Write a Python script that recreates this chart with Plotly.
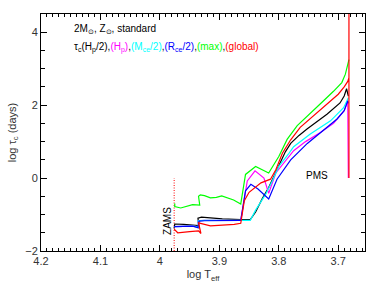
import plotly.graph_objects as go

# ---- data (log Teff, log tau_c) ----
black_x = [3.976, 3.975, 3.960, 3.945, 3.936, 3.934, 3.936, 3.930, 3.915, 3.895, 3.864, 3.848, 3.839, 3.828, 3.817, 3.803, 3.789, 3.780, 3.766, 3.752, 3.735, 3.719, 3.697, 3.690, 3.686, 3.683]
black_y = [-1.38, -1.26, -1.27, -1.28, -1.30, -1.38, -1.10, -1.07, -1.10, -1.12, -1.14, -1.14, -0.93, -0.57, -0.26, 0.23, 0.72, 0.95, 1.17, 1.35, 1.55, 1.75, 2.06, 2.25, 2.45, 2.25]

magenta_x = [3.976, 3.960, 3.945, 3.935, 3.936, 3.925, 3.900, 3.864, 3.853, 3.840, 3.825, 3.817, 3.805, 3.790, 3.775, 3.755, 3.730, 3.708, 3.690, 3.684, 3.683]
magenta_y = [-1.33, -1.32, -1.32, -1.34, -1.17, -1.16, -1.16, -1.16, -0.08, 0.20, 0.00, -0.42, 0.14, 0.45, 0.75, 1.00, 1.25, 1.50, 1.85, 2.10, 0.00]

cyan_x = [3.976, 3.960, 3.945, 3.935, 3.936, 3.925, 3.900, 3.864, 3.848, 3.839, 3.822, 3.811, 3.800, 3.783, 3.775, 3.747, 3.713, 3.691, 3.685, 3.683]
cyan_y = [-1.33, -1.32, -1.32, -1.34, -1.17, -1.16, -1.16, -1.16, -1.16, -0.88, -0.44, -0.08, 0.32, 0.68, 0.86, 1.21, 1.57, 1.93, 2.15, 2.20]

blue_x = [3.976, 3.960, 3.945, 3.936, 3.934, 3.925, 3.900, 3.864, 3.856, 3.847, 3.835, 3.817, 3.803, 3.780, 3.752, 3.725, 3.702, 3.690, 3.684, 3.683]
blue_y = [-1.33, -1.33, -1.32, -1.36, -1.18, -1.17, -1.17, -1.16, -0.35, -0.17, -0.30, -0.57, -0.03, 0.50, 0.95, 1.30, 1.62, 1.85, 2.12, 2.05]

green_x = [3.975, 3.975, 3.965, 3.945, 3.933, 3.935, 3.932, 3.925, 3.915, 3.905, 3.896, 3.885, 3.876, 3.864, 3.856, 3.839, 3.817, 3.800, 3.786, 3.769, 3.752, 3.730, 3.708, 3.694, 3.688, 3.684, 3.682]
green_y = [-0.70, -0.78, -0.82, -0.73, -0.74, -0.50, -0.46, -0.48, -0.54, -0.53, -0.49, -0.55, -0.60, -0.71, 0.10, 0.32, 0.14, 0.59, 1.06, 1.44, 1.71, 2.04, 2.38, 2.62, 2.85, 3.15, 3.25]

red_x = [3.976, 3.970, 3.950, 3.935, 3.931, 3.935, 3.915, 3.890, 3.875, 3.864, 3.858, 3.850, 3.830, 3.814, 3.805, 3.794, 3.780, 3.764, 3.736, 3.713, 3.700, 3.690, 3.684, 3.682, 3.682, 3.682]
red_y = [-1.40, -1.50, -1.47, -1.45, -1.52, -1.23, -1.31, -1.29, -1.27, -1.24, -0.62, -0.39, -0.13, -0.03, 0.23, 0.68, 1.05, 1.39, 1.80, 2.11, 2.30, 2.50, 2.65, 2.75, 5.00, 0.00]

zams_x = [3.976, 3.976]
zams_y = [-2.0, 0.0]

x_ticks = [4.2, 4.1, 4.0, 3.9, 3.8, 3.7]
x_ticklabels = ["4.2", "4.1", "4", "3.9", "3.8", "3.7"]
y_ticks = [-2, 0, 2, 4]

series = [
    (black_x, black_y, "#000000"),
    (magenta_x, magenta_y, "#FF00FF"),
    (cyan_x, cyan_y, "#00FFFF"),
    (blue_x, blue_y, "#0000FF"),
    (green_x, green_y, "#00FF00"),
    (red_x, red_y, "#FF0000"),
]

fig = go.Figure()
fig.add_trace(go.Scatter(x=zams_x, y=zams_y, mode="lines",
                         line=dict(color="#FF0000", width=1, dash="1px,1.5px"),
                         showlegend=False, hoverinfo="skip"))
for xs, ys, col in series:
    fig.add_trace(go.Scatter(x=xs, y=ys, mode="lines",
                             line=dict(color=col, width=1.2),
                             showlegend=False))

font = "Liberation Sans, Arial, sans-serif"
axis_common = dict(showline=True, linecolor="black", linewidth=1, mirror="allticks",
                   ticks="inside", ticklen=6, tickcolor="black", tickwidth=1,
                   showgrid=False, zeroline=False,
                   tickfont=dict(family=font, size=11, color="#333333"))

fig.update_xaxes(range=[4.2, 3.655], tickvals=x_ticks, ticktext=x_ticklabels,
                 minor=dict(dtick=0.01, ticklen=3, tickcolor="black", ticks="inside", showgrid=False),
                 title=dict(text="log T<sub>eff</sub>", font=dict(family=font, size=11, color="#333333"), standoff=4),
                 **axis_common)
fig.update_yaxes(range=[-2, 4.5], tickvals=y_ticks,
                 minor=dict(dtick=0.5, ticklen=4, tickcolor="black", ticks="inside", showgrid=False),
                 title=dict(text="log τ<sub>c</sub> (days)", font=dict(family=font, size=11, color="#333333"), standoff=6),
                 **axis_common)

fig.add_annotation(x=4.148, y=4.09, xref="x", yref="y", xanchor="left", yanchor="middle",
                   text="2M<sub>⊙</sub>, Z<sub>⊙</sub>, standard", showarrow=False,
                   font=dict(family=font, size=10, color="black"))
fig.add_annotation(x=4.148, y=3.58, xref="x", yref="y", xanchor="left", yanchor="middle",
                   text=("τ<sub>c</sub>(H<sub>p</sub>/2),"
                         "<span style='color:#FF00FF'>(H<sub>p</sub>)</span>,"
                         "<span style='color:#00FFFF'>(M<sub>ce</sub>/2)</span>,"
                         "<span style='color:#0000FF'>(R<sub>ce</sub>/2)</span>,"
                         "<span style='color:#00FF00'>(max)</span>,"
                         "<span style='color:#FF0000'>(global)</span>"),
                   showarrow=False, font=dict(family=font, size=10, color="black"))
fig.add_annotation(x=3.736, y=0.07, xref="x", yref="y", text="PMS", showarrow=False,
                   font=dict(family=font, size=10, color="black"))
fig.add_annotation(x=3.986, y=-1.17, xref="x", yref="y", text="ZAMS", showarrow=False, textangle=-90,
                   font=dict(family=font, size=10, color="black"))

fig.update_layout(width=389, height=291, margin=dict(l=39, r=24, t=14, b=34),
                  paper_bgcolor="white", plot_bgcolor="white", showlegend=False)

fig.write_html("out.html", config={"displayModeBar": False},
               post_script="document.body.style.margin='0';document.body.style.overflow='hidden';")
